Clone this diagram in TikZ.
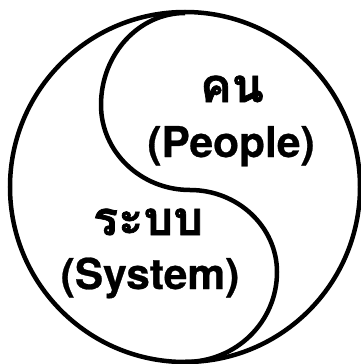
\documentclass[tikz,border=0pt]{standalone}
\usepackage{fontspec}
\setmainfont{TeX Gyre Heros}[BoldFeatures={FakeBold=0.6}]
\newfontfamily\thaifont[Script=Thai, BoldFeatures={FakeBold=1.5}]{Loma}
\usepackage{tikz}
\usetikzlibrary{positioning}
\definecolor{colorOne}{HTML}{000000}
\definecolor{colorTwo}{HTML}{FFFFFF}
\def\colorOne{colorOne}
\def\colorTwo{colorTwo}

\begin{document}
\begin{tikzpicture}[x=1pt,y=-1pt]

    % Fond blanc
    \fill[\colorTwo] (0,0) rectangle (361,364);
    \useasboundingbox (0,0) rectangle (361,364);

    % Cercle exterieur
    \draw[line width=4.5pt, color=\colorOne] (185,187) circle (175pt);

    % Courbe en S
    \draw[line width=4.5pt, color=\colorOne]
        (185,13) .. controls (139,13) and (101,54) .. (101,105)
        .. controls (101,152) and (141,190) .. (190,190)
        .. controls (238,190) and (277,227) .. (277,272)
        .. controls (277,322) and (236,362) .. (185,362);

    % Texte "คน (People)"
    \node[draw = none, fill=none, anchor=base, \colorOne] (kon)
        at (232,102) {\fontsize{47pt}{50pt}\thaifont\bfseries คน};
    \node[draw = none, fill=none, anchor=base, \colorOne] (people)
        at (231,157) {\fontsize{42.5pt}{50pt}\selectfont\bfseries (People)};

    % Texte "ระบบ (System)"
    \node[draw = none, fill=none, anchor=base, \colorOne] (rabop)
        at (148,235) {\fontsize{47pt}{50pt}\thaifont\bfseries ระบบ};
    \node[draw = none, fill=none, anchor=base, \colorOne] (system)
        at (150,289) {\fontsize{42.5pt}{50pt}\selectfont\bfseries (System)};

\end{tikzpicture}
\end{document}
